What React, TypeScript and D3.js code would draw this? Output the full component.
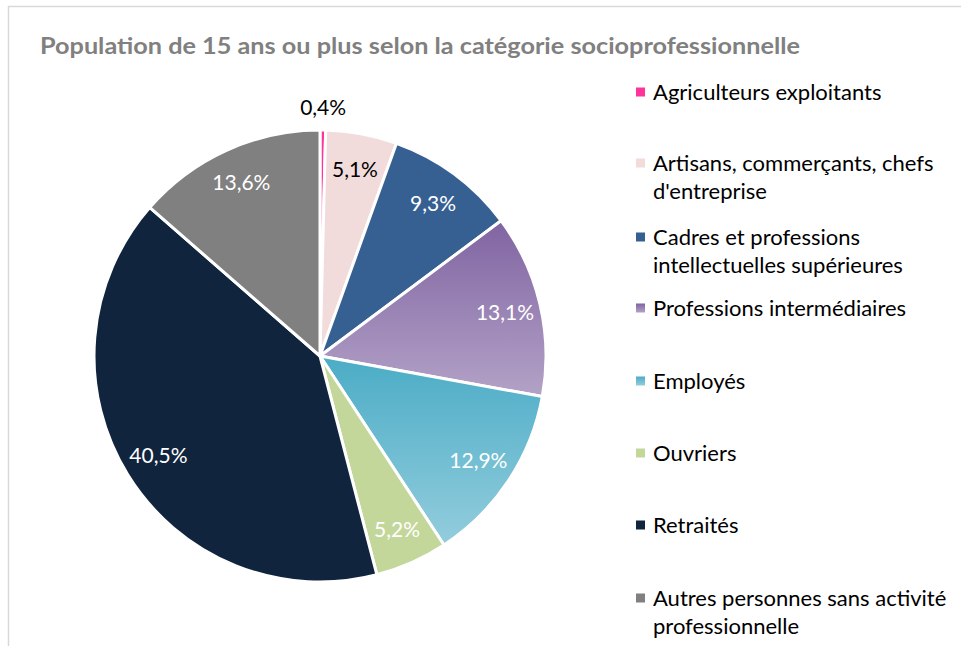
import React, { useEffect, useRef } from 'react';
import * as d3 from 'd3';

const categories = [
  'Agriculteurs exploitants',
  'Artisans, commerçants, chefs d\'entreprise',
  'Cadres et professions intellectuelles supérieures',
  'Professions intermédiaires',
  'Employés',
  'Ouvriers',
  'Retraités',
  'Autres personnes sans activité professionnelle',
];
const values = [0.4, 5.1, 9.3, 13.1, 12.9, 5.2, 40.5, 13.6];
const valueLabels = ['0,4%', '5,1%', '9,3%', '13,1%', '12,9%', '5,2%', '40,5%', '13,6%'];
const legendLines = [
  ['Agriculteurs exploitants'],
  ['Artisans, commerçants, chefs', 'd\'entreprise'],
  ['Cadres et professions', 'intellectuelles supérieures'],
  ['Professions intermédiaires'],
  ['Employés'],
  ['Ouvriers'],
  ['Retraités'],
  ['Autres personnes sans activité', 'professionnelle'],
];
const labelColors = ['#000', '#000', '#fff', '#fff', '#fff', '#fff', '#fff', '#fff'];

// solid colours, or [top, bottom] for gradients
const colors: (string | [string, string])[] = [
  '#FF3399',
  '#F2DCDB',
  '#366092',
  ['#8064A2', '#B3A2C7'],
  ['#4BACC6', '#93CDDD'],
  '#C4D79B',
  '#10243E',
  '#808080',
];

const W = 961;
const H = 646;

export default function App() {
  const svgRef = useRef<SVGSVGElement>(null);

  useEffect(() => {
    if (!svgRef.current) return;
    const root = d3.select(svgRef.current);
    root.selectAll('*').remove();

    const font = 'Lato, "Open Sans", sans-serif';

    const defs = root.append('defs');
    const fill = (i: number) => {
      const c = colors[i];
      if (typeof c === 'string') return c;
      return `url(#grad${i})`;
    };
    colors.forEach((c, i) => {
      if (typeof c === 'string') return;
      const g = defs.append('linearGradient')
        .attr('id', `grad${i}`)
        .attr('x1', 0).attr('y1', 0).attr('x2', 0).attr('y2', 1);
      g.append('stop').attr('offset', '0%').attr('stop-color', c[0]);
      g.append('stop').attr('offset', '100%').attr('stop-color', c[1]);
    });

    // chart area border
    root.append('rect')
      .attr('x', 8.5).attr('y', 6.5)
      .attr('width', W + 20).attr('height', H + 20)
      .attr('fill', 'none')
      .attr('stroke', '#d9d9d9')
      .attr('stroke-width', 1.5);

    root.append('text')
      .attr('x', 40)
      .attr('y', 54)
      .attr('fill', '#808080')
      .attr('textLength', 760)
      .attr('lengthAdjust', 'spacingAndGlyphs')
      .style('font-family', font)
      .style('font-weight', 'bold')
      .style('font-size', '22px')
      .text('Population de 15 ans ou plus selon la catégorie socioprofessionnelle');

    const cx = 320;
    const cy = 356;
    const R = 226;

    const pie = d3.pie<number>().sort(null).value(d => d);
    const arcs = pie(values);
    const arc = d3.arc<d3.PieArcDatum<number>>().innerRadius(0).outerRadius(R);

    const g = root.append('g').attr('transform', `translate(${cx},${cy})`);

    g.selectAll('path')
      .data(arcs)
      .join('path')
      .attr('d', arc)
      .attr('fill', (d, i) => fill(i))
      .attr('stroke', '#fff')
      .attr('stroke-width', 3)
      .attr('stroke-linejoin', 'round');

    const labelArc = d3.arc<d3.PieArcDatum<number>>().innerRadius(190).outerRadius(190);
    const outerArc = d3.arc<d3.PieArcDatum<number>>().innerRadius(R + 22).outerRadius(R + 22);

    g.selectAll('text.lbl')
      .data(arcs)
      .join('text')
      .attr('class', 'lbl')
      .attr('transform', (d, i) => {
        const p = i === 0 ? outerArc.centroid(d) : labelArc.centroid(d);
        return `translate(${p[0]},${p[1]})`;
      })
      .attr('text-anchor', 'middle')
      .attr('dy', '0.35em')
      .attr('fill', (d, i) => labelColors[i])
      .style('font-family', font)
      .style('font-size', '21px')
      .text((d, i) => valueLabels[i]);

    // legend
    const legendY = [92, 163, 237, 308, 381, 453, 525, 598];
    const legend = root.append('g').attr('transform', 'translate(636,0)');
    categories.forEach((cat, i) => {
      const item = legend.append('g').attr('transform', `translate(0,${legendY[i]})`);
      item.append('rect')
        .attr('x', 0).attr('y', -4.5)
        .attr('width', 9).attr('height', 9)
        .attr('fill', fill(i));
      const t = item.append('text')
        .attr('x', 17)
        .attr('fill', '#000')
        .style('font-family', font)
        .style('font-size', '22px');
      legendLines[i].forEach((line, j) => {
        t.append('tspan')
          .attr('x', 17)
          .attr('y', j * 28)
          .attr('dy', '0.35em')
          .text(line);
      });
    });
  }, []);

  return (
    <svg
      ref={svgRef}
      width={W}
      height={H}
      style={{ position: 'absolute', left: 0, top: 0, background: '#fff' }}
    />
  );
}
